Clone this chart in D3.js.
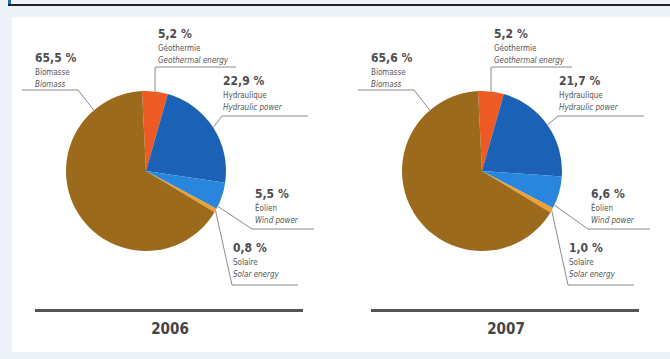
<!DOCTYPE html>
<html>
<head>
    <title></title>
    <style>
        body { margin: 0; background: #edf1f8; }
        text { font-family: "Liberation Sans Narrow", "DejaVu Sans Condensed", "Liberation Sans", sans-serif; }
    </style>
</head>
<body>
<script src="https://d3js.org/d3.v7.min.js"></script>
<script type="text/javascript">

    // data
    var years = ['2006', '2007'];
    var categoriesFr = ['Géothermie', 'Hydraulique', 'Éolien', 'Solaire', 'Biomasse'];
    var categoriesEn = ['Geothermal energy', 'Hydraulic power', 'Wind power', 'Solar energy', 'Biomass'];
    var shares2006 = [5.2, 22.9, 5.5, 0.8, 65.5];
    var shares2007 = [5.2, 21.7, 6.6, 1.0, 65.6];
    var sharesByYear = [shares2006, shares2007];

    var colors = ['#ee5a24', '#1b61b5', '#2a86dc', '#f0a030', '#9b6a1c'];

    // label layout, relative to pie centre: text x, percent baseline y, underline from/to, leader anchor (fraction inside slice)
    var labelLayout = [
        {tx: 12, ty: -133, ux0: 9, ux1: 90, uy: -104, at: 0.5},
        {tx: 77, ty: -86, ux0: 76, ux1: 162, uy: -55, at: 0.5},
        {tx: 109, ty: 27, ux0: 106, ux1: 168, uy: 58, at: 0.9},
        {tx: 87, ty: 81, ux0: 86, ux1: 152, uy: 114, at: 0.5},
        {tx: -111, ty: -109, ux0: -124, ux1: -68, uy: -81, at: 0.84}
    ];

    var width = 670;
    var height = 359;
    var radius = 80;
    var cy = 171;

    var fmt = function(v) { return d3.format('.1f')(v).replace('.', ',') + ' %'; };

    var x = d3.scaleBand()
                .domain(years)
                .range([0, 672]);

    var svg = d3.select('body')
                .append('svg')
                    .attr('width', width)
                    .attr('height', height);

    // header remnants
    svg.append('rect').attr('x', 8).attr('y', 0).attr('width', 3).attr('height', 5).attr('fill', '#1f6fae');
    svg.append('line')
        .attr('x1', 8).attr('x2', 670).attr('y1', 5).attr('y2', 5)
        .attr('stroke', '#222').attr('stroke-width', 2);

    // white panel
    svg.append('rect')
        .attr('x', 12).attr('y', 17)
        .attr('width', 658).attr('height', 335)
        .attr('fill', '#ffffff');

    var pie = d3.pie()
                .sort(null)
                .startAngle(-0.05)
                .endAngle(2 * Math.PI - 0.05);

    var arc = d3.arc().innerRadius(0).outerRadius(radius);

    years.forEach(function(year, yi) {
        var cx = x(year) + 146;
        var g = svg.append('g').attr('transform', 'translate(' + cx + ',' + cy + ')');
        var slices = pie(sharesByYear[yi]);

        g.selectAll('path')
            .data(slices)
            .enter()
            .append('path')
                .attr('d', arc)
                .attr('fill', function(d, i) { return colors[i]; });

        // leaders and underlines
        slices.forEach(function(d, i) {
            var L = labelLayout[i];
            var a = d.startAngle + (d.endAngle - d.startAngle) * L.at;
            var px = Math.sin(a) * radius;
            var py = -Math.cos(a) * radius;
            var ax = (i === 4) ? L.ux1 : L.ux0;
            g.append('path')
                .attr('d', 'M' + px + ',' + py + 'L' + ax + ',' + L.uy + 'L' + (i === 4 ? L.ux0 : L.ux1) + ',' + L.uy)
                .attr('fill', 'none')
                .attr('stroke', '#8a8a8a')
                .attr('stroke-width', 1);

            var t = g.append('g').attr('transform', 'translate(' + L.tx + ',' + L.ty + ')');
            t.append('text')
                .attr('font-size', 12).attr('font-weight', 'bold').attr('fill', '#4d4d4d')
                .text(fmt(d.data));
            t.append('text')
                .attr('y', 12.5)
                .attr('font-size', 8).attr('fill', '#555')
                .text(categoriesFr[i]);
            t.append('text')
                .attr('y', 24.5)
                .attr('font-size', 8).attr('font-style', 'italic').attr('fill', '#555')
                .text(categoriesEn[i]);
        });

        // year rule and label
        svg.append('rect')
            .attr('x', x(year) + 35).attr('y', 309)
            .attr('width', 268).attr('height', 3)
            .attr('fill', '#555');
        svg.append('text')
            .attr('x', x(year) + 170).attr('y', 334)
            .attr('text-anchor', 'middle')
            .attr('font-size', 15).attr('font-weight', 'bold').attr('fill', '#444')
            .text(year);
    });

</script>
</body>
</html>
